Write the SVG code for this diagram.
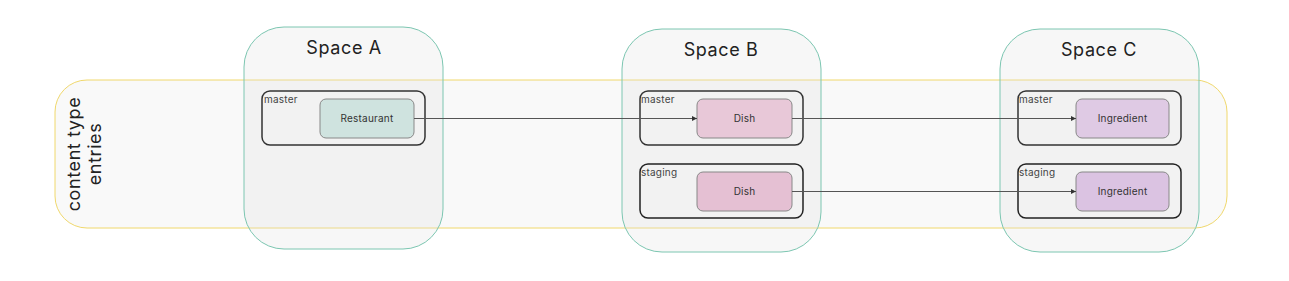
<svg xmlns="http://www.w3.org/2000/svg" width="1289" height="281" viewBox="0 0 1289 281">
<style>
text{font-family:Inter,"Noto Sans",sans-serif;fill:#222}
.band{fill:#f9f9f9;stroke:#f0d86c;stroke-width:1}
.space{fill:rgba(225,225,225,0.25);stroke:#7cc6b1;stroke-width:1}
.title{font-size:18px;text-anchor:middle;letter-spacing:0.6px}
.env{fill:none;stroke:#333;stroke-width:1.5}
.envs{fill:none;stroke:#222;stroke-width:1.5}
.envl{font-size:10px;fill:#444;letter-spacing:0.2px}
.node{stroke:#888;stroke-width:1}
.nl{font-size:10px;text-anchor:middle;fill:#333;letter-spacing:0.2px}
.conn{stroke:#555;stroke-width:1;fill:none}
.side{font-size:18px;text-anchor:middle;letter-spacing:0.6px}
</style>
<defs>
<marker id="arr" viewBox="0 0 10 10" refX="10" refY="5" markerWidth="5" markerHeight="5" orient="auto" markerUnits="userSpaceOnUse">
<path d="M0,0 L10,5 L0,10 z" fill="#333"/>
</marker>
</defs>
<g id="band">
<rect class="band" x="55" y="80" width="1172" height="148" rx="32"/>
<text class="side" transform="translate(80,154) rotate(-90)">content type</text>
<text class="side" transform="translate(101,154) rotate(-90)">entries</text>
</g>
<g id="spaceA">
<rect class="space" x="244" y="27" width="199" height="222" rx="40"/>
<text class="title" x="344" y="54">Space A</text>
</g>
<g id="spaceB">
<rect class="space" x="622" y="29" width="199" height="223" rx="40"/>
<text class="title" x="721" y="56">Space B</text>
</g>
<g id="spaceC">
<rect class="space" x="1000" y="29" width="199" height="223" rx="40"/>
<text class="title" x="1099" y="56">Space C</text>
</g>
<g id="envA-master">
<rect class="env" x="262" y="91" width="163" height="54" rx="8"/>
<text class="envl" x="264" y="103">master</text>
</g>
<g id="envB-master">
<rect class="env" x="640" y="91" width="163" height="54" rx="8"/>
<text class="envl" x="641" y="103">master</text>
</g>
<g id="envB-staging">
<rect class="envs" x="640" y="164" width="163" height="54" rx="8"/>
<text class="envl" x="641" y="176">staging</text>
</g>
<g id="envC-master">
<rect class="env" x="1018" y="91" width="163" height="54" rx="8"/>
<text class="envl" x="1019" y="103">master</text>
</g>
<g id="envC-staging">
<rect class="envs" x="1018" y="164" width="163" height="54" rx="8"/>
<text class="envl" x="1019" y="176">staging</text>
</g>
<g id="restaurant">
<rect class="node" x="320" y="99" width="94" height="39" rx="6" fill="#cfe3df"/>
<text class="nl" x="367" y="122">Restaurant</text>
</g>
<g id="dish-master">
<rect class="node" x="697" y="99" width="95" height="39" rx="6" fill="#e8c8d8"/>
<text class="nl" x="744.5" y="122">Dish</text>
</g>
<g id="dish-staging">
<rect class="node" x="697" y="172" width="95" height="39" rx="6" fill="#e5c0d3"/>
<text class="nl" x="744.5" y="195">Dish</text>
</g>
<g id="ingredient-master">
<rect class="node" x="1076" y="99" width="93" height="39" rx="6" fill="#dfcae4"/>
<text class="nl" x="1122.5" y="122">Ingredient</text>
</g>
<g id="ingredient-staging">
<rect class="node" x="1076" y="172" width="93" height="39" rx="6" fill="#dbc3e2"/>
<text class="nl" x="1122.5" y="195">Ingredient</text>
</g>
<g id="connectors">
<line class="conn" x1="414" y1="118.5" x2="697" y2="118.5" marker-end="url(#arr)"/>
<line class="conn" x1="792" y1="118.5" x2="1076" y2="118.5" marker-end="url(#arr)"/>
<line class="conn" x1="792" y1="191.5" x2="1076" y2="191.5" marker-end="url(#arr)"/>
</g>
</svg>
